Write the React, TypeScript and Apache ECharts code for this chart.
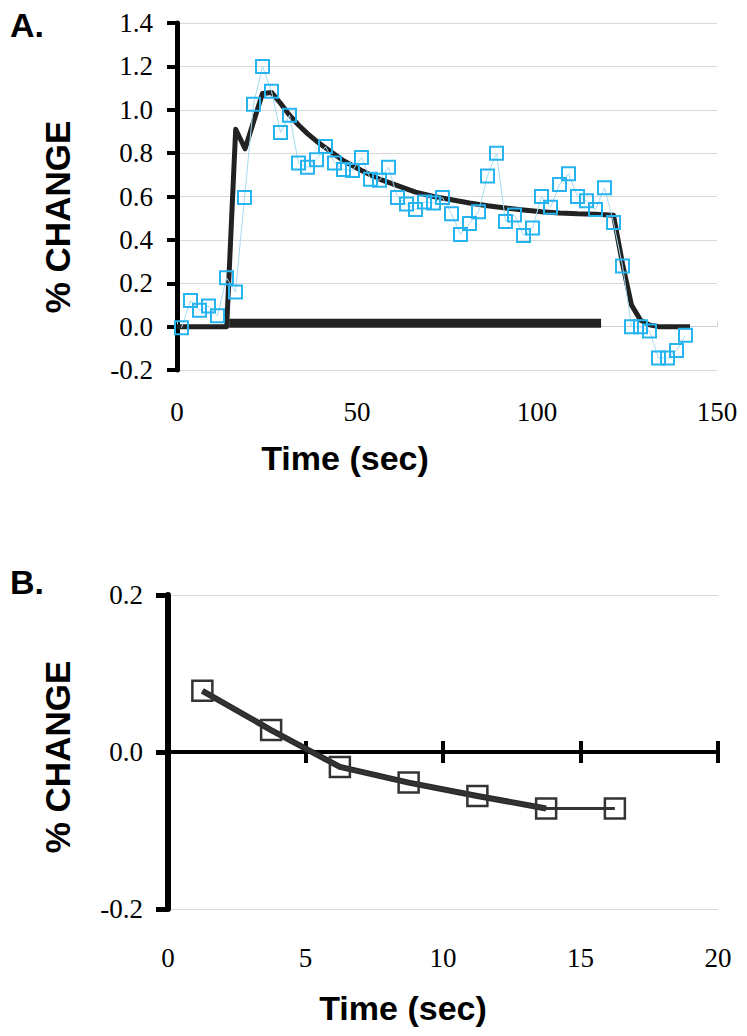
import React, { useEffect, useRef } from "react";
import * as echarts from "echarts";

// ---------- Panel A data ----------
const timeA = [
  1.25, 3.75, 6.25, 8.75, 11.25, 13.75, 16.25, 18.75, 21.25, 23.75,
  26.25, 28.75, 31.25, 33.75, 36.25, 38.75, 41.25, 43.75, 46.25, 48.75,
  51.25, 53.75, 56.25, 58.75, 61.25, 63.75, 66.25, 68.75, 71.25, 73.75,
  76.25, 78.75, 81.25, 83.75, 86.25, 88.75, 91.25, 93.75, 96.25, 98.75,
  101.25, 103.75, 106.25, 108.75, 111.25, 113.75, 116.25, 118.75, 121.25, 123.75,
  126.25, 128.75, 131.25, 133.75, 136.25, 138.75, 141.25,
];
const changeA = [
  -0.005, 0.12, 0.075, 0.095, 0.05, 0.225, 0.16, 0.595, 1.025, 1.2,
  1.085, 0.895, 0.975, 0.755, 0.735, 0.77, 0.83, 0.755, 0.725, 0.72,
  0.78, 0.68, 0.675, 0.735, 0.595, 0.565, 0.54, 0.575, 0.57, 0.595,
  0.52, 0.425, 0.475, 0.53, 0.695, 0.8, 0.485, 0.515, 0.42, 0.455,
  0.6, 0.55, 0.655, 0.705, 0.6, 0.58, 0.54, 0.64, 0.48, 0.28,
  0.0, 0.0, -0.02, -0.145, -0.145, -0.11, -0.04,
];
const modelTimeA = [
  0, 13.8, 16.3, 18.9, 23.75, 26.25, 28.75, 31.25, 33.75, 36.25,
  38.75, 41.25, 46.25, 51.25, 56.25, 61.25, 66.25, 71.25, 76.25, 81.25,
  86.25, 91.25, 96.25, 101.25, 106.25, 111.25, 116.25, 121.25, 123.75, 126.25,
  128.75, 131.25, 133.75, 142.5,
];
const modelValueA = [
  0, 0, 0.91, 0.82, 1.075, 1.08, 1.03, 0.975, 0.93, 0.89,
  0.855, 0.825, 0.765, 0.72, 0.68, 0.65, 0.62, 0.6, 0.585, 0.57,
  0.557, 0.547, 0.538, 0.53, 0.524, 0.52, 0.518, 0.513, 0.29, 0.1,
  0.03, 0.008, 0.0, 0.0,
];
const stimulusTimeA = [14.5, 117.8];
const stimulusLevelA = [0.015, 0.015];
const xTicksA = { min: 0, max: 150, step: 50 };
const yTicksA = { min: -0.2, max: 1.4, step: 0.2 };

// ---------- Panel B data ----------
const timeB = [1.25, 3.75, 6.25, 8.75, 11.25, 13.75, 16.25];
const changeB = [0.078, 0.028, -0.019, -0.039, -0.056, -0.072, -0.072];
const fitCountB = 6;
const xTicksB = { min: 0, max: 20, step: 5 };
const yTicksB = { min: -0.2, max: 0.2, step: 0.2 };

const SERIF = "'Liberation Serif', 'Times New Roman', serif";
const SANS = "'Liberation Sans', Arial, sans-serif";

const fmt1 = (v: number) => (Math.abs(v) < 1e-9 ? "0.0" : v.toFixed(1));

export default function App() {
  const ref = useRef<HTMLDivElement>(null);

  useEffect(() => {
    document.body.style.margin = "0";
    if (!ref.current) return;
    const chart = echarts.init(ref.current, null, { renderer: "svg" });

    const zip = (xs: number[], ys: number[]) => xs.map((x, i) => [x, ys[i]]);

    const tickLabel = { fontFamily: SERIF, fontSize: 27, color: "#000" };

    const option: any = {
      animation: false,
      backgroundColor: "#fff",
      grid: [
        { left: 177, top: 23, width: 540, height: 347 },
        { left: 168, top: 595, width: 550, height: 314 },
      ],
      xAxis: [
        {
          gridIndex: 0, type: "value", min: xTicksA.min, max: xTicksA.max, interval: xTicksA.step,
          axisLine: { show: false, onZero: false },
          axisTick: { show: false },
          splitLine: { show: false },
          axisLabel: { ...tickLabel, margin: 28 },
        },
        {
          gridIndex: 0, type: "value", min: xTicksA.min, max: xTicksA.max, interval: xTicksA.step,
          axisLine: { show: true, onZero: true, onZeroAxisIndex: 0, lineStyle: { color: "#cfcfcf", width: 1 } },
          axisTick: { show: true, length: 5, lineStyle: { color: "#cfcfcf", width: 1 } },
          splitLine: { show: false },
          axisLabel: { show: false },
        },
        {
          gridIndex: 1, type: "value", min: xTicksB.min, max: xTicksB.max, interval: xTicksB.step,
          axisLine: { show: false, onZero: false },
          axisTick: { show: false },
          splitLine: { show: false },
          axisLabel: { ...tickLabel, margin: 35 },
        },
        {
          gridIndex: 1, type: "value", min: xTicksB.min, max: xTicksB.max, interval: xTicksB.step,
          axisLine: { show: true, onZero: true, onZeroAxisIndex: 1, lineStyle: { color: "#000", width: 4 } },
          axisTick: { show: true, inside: false, length: 11, lineStyle: { color: "#000", width: 4 } },
          splitLine: { show: false },
          axisLabel: { show: false },
        },
        {
          gridIndex: 1, type: "value", min: xTicksB.min, max: xTicksB.max, interval: xTicksB.step,
          axisLine: { show: false, onZero: true, onZeroAxisIndex: 1 },
          axisTick: { show: true, inside: true, length: 11, lineStyle: { color: "#000", width: 4 } },
          splitLine: { show: false },
          axisLabel: { show: false },
        },
      ],
      yAxis: [
        {
          gridIndex: 0, type: "value", min: yTicksA.min, max: yTicksA.max, interval: yTicksA.step,
          axisLine: { show: true, onZero: false, lineStyle: { color: "#000", width: 5 } },
          axisTick: { show: true, length: 10, lineStyle: { color: "#000", width: 4 } },
          splitLine: { show: true, lineStyle: { color: "#d9d9d9", width: 1 } },
          axisLabel: { ...tickLabel, margin: 24, formatter: fmt1 },
        },
        {
          gridIndex: 1, type: "value", min: yTicksB.min, max: yTicksB.max, interval: yTicksB.step,
          axisLine: { show: true, onZero: false, lineStyle: { color: "#000", width: 6 } },
          axisTick: { show: true, length: 12, lineStyle: { color: "#000", width: 5 } },
          splitLine: { show: true, lineStyle: { color: "#d9d9d9", width: 1 } },
          axisLabel: { ...tickLabel, margin: 25, formatter: fmt1 },
        },
      ],
      series: [
        {
          name: "stimulus", type: "line", xAxisIndex: 0, yAxisIndex: 0,
          data: zip(stimulusTimeA, stimulusLevelA),
          symbol: "none", lineStyle: { color: "#222", width: 9, cap: "butt" }, z: 2,
        },
        {
          name: "model", type: "line", xAxisIndex: 0, yAxisIndex: 0,
          data: zip(modelTimeA, modelValueA),
          symbol: "none", lineStyle: { color: "#222", width: 5, join: "round" }, z: 3,
        },
        {
          name: "data", type: "line", xAxisIndex: 0, yAxisIndex: 0,
          data: zip(timeA, changeA),
          symbol: "rect", symbolSize: 13, showAllSymbol: true,
          itemStyle: { color: "rgba(255,255,255,0)", borderColor: "#26b4f0", borderWidth: 2 },
          lineStyle: { color: "#a6dbf4", width: 1 }, z: 4,
        },
        {
          name: "fitB", type: "line", xAxisIndex: 2, yAxisIndex: 1,
          data: zip(timeB.slice(0, fitCountB), changeB.slice(0, fitCountB)),
          symbol: "none", lineStyle: { color: "#2a2a2a", width: 6, join: "round" }, z: 3,
        },
        {
          name: "dataB", type: "line", xAxisIndex: 2, yAxisIndex: 1,
          data: zip(timeB, changeB),
          symbol: "rect", symbolSize: 20, showAllSymbol: true,
          itemStyle: { color: "rgba(255,255,255,0)", borderColor: "#333", borderWidth: 2.5 },
          lineStyle: { color: "#333", width: 3 }, z: 4,
        },
      ],
      graphic: [
        { type: "text", left: 10, top: 8, style: { text: "A.", font: `bold 34px ${SANS}`, fill: "#000" } },
        { type: "text", left: 10, top: 565, style: { text: "B.", font: `bold 34px ${SANS}`, fill: "#000" } },
        {
          type: "text", x: 57, y: 217, rotation: Math.PI / 2,
          style: { text: "% CHANGE", font: `bold 35px ${SANS}`, fill: "#000", align: "center", verticalAlign: "middle" },
        },
        {
          type: "text", x: 57, y: 757, rotation: Math.PI / 2,
          style: { text: "% CHANGE", font: `bold 35px ${SANS}`, fill: "#000", align: "center", verticalAlign: "middle" },
        },
        {
          type: "text", x: 345, y: 458,
          style: { text: "Time (sec)", font: `bold 34px ${SANS}`, fill: "#000", align: "center", verticalAlign: "middle" },
        },
        {
          type: "text", x: 403, y: 1008,
          style: { text: "Time (sec)", font: `bold 34px ${SANS}`, fill: "#000", align: "center", verticalAlign: "middle" },
        },
      ],
    };

    chart.setOption(option);
    return () => chart.dispose();
  }, []);

  return <div ref={ref} style={{ width: 747, height: 1036 }} />;
}
